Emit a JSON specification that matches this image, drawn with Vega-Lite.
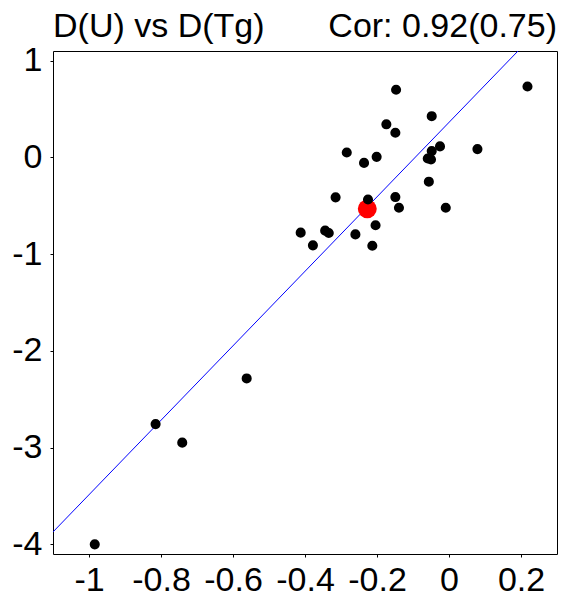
{
  "$schema": "https://vega.github.io/schema/vega-lite/v6.json",
  "width": 504,
  "height": 503,
  "autosize": {"type": "none"},
  "padding": {"left": 53, "top": 51, "right": 4, "bottom": 42},
  "background": "white",
  "config": {
    "view": {"stroke": "black", "strokeWidth": 1},
    "font": "Liberation Sans",
    "axis": {
      "domain": false, "grid": false, "ticks": true, "tickSize": 3, "tickColor": "black",
      "labelFontSize": 34, "labelColor": "black", "labelFont": "Liberation Sans",
      "labelOverlap": false, "labelFlush": false, "labelBound": false, "title": null
    }
  },
  "datasets": {
    "points": [
      {"dTg": -0.227, "dU": -0.532, "kind": "focus"},
      {"dTg": -0.147, "dU": 0.699, "kind": "other"},
      {"dTg": 0.218, "dU": 0.733, "kind": "other"},
      {"dTg": -0.048, "dU": 0.426, "kind": "other"},
      {"dTg": -0.174, "dU": 0.342, "kind": "other"},
      {"dTg": -0.149, "dU": 0.255, "kind": "other"},
      {"dTg": -0.025, "dU": 0.114, "kind": "other"},
      {"dTg": 0.079, "dU": 0.086, "kind": "other"},
      {"dTg": -0.284, "dU": 0.051, "kind": "other"},
      {"dTg": -0.201, "dU": 0.006, "kind": "other"},
      {"dTg": -0.236, "dU": -0.057, "kind": "other"},
      {"dTg": -0.048, "dU": 0.065, "kind": "other"},
      {"dTg": -0.059, "dU": -0.011, "kind": "other"},
      {"dTg": -0.050, "dU": -0.022, "kind": "other"},
      {"dTg": -0.056, "dU": -0.251, "kind": "other"},
      {"dTg": -0.315, "dU": -0.413, "kind": "other"},
      {"dTg": -0.225, "dU": -0.435, "kind": "other"},
      {"dTg": -0.149, "dU": -0.410, "kind": "other"},
      {"dTg": -0.139, "dU": -0.521, "kind": "other"},
      {"dTg": -0.009, "dU": -0.521, "kind": "other"},
      {"dTg": -0.204, "dU": -0.701, "kind": "other"},
      {"dTg": -0.412, "dU": -0.778, "kind": "other"},
      {"dTg": -0.344, "dU": -0.757, "kind": "other"},
      {"dTg": -0.334, "dU": -0.781, "kind": "other"},
      {"dTg": -0.260, "dU": -0.796, "kind": "other"},
      {"dTg": -0.378, "dU": -0.909, "kind": "other"},
      {"dTg": -0.213, "dU": -0.913, "kind": "other"},
      {"dTg": -0.562, "dU": -2.285, "kind": "other"},
      {"dTg": -0.815, "dU": -2.757, "kind": "other"},
      {"dTg": -0.741, "dU": -2.949, "kind": "other"},
      {"dTg": -0.984, "dU": -4.0, "kind": "other"}
    ],
    "fit": [
      {"dTg": -1.1, "dU": -3.872},
      {"dTg": 0.2, "dU": 1.132}
    ],
    "labels": [
      {"label": "D(U) vs D(Tg)", "side": "left"},
      {"label": "Cor: 0.92(0.75)", "side": "right"}
    ]
  },
  "layer": [
    {
      "mark": {"type": "rule", "color": "black", "strokeWidth": 1},
      "encoding": {
        "x": {"datum": 0, "type": "quantitative", "scale": {"domain": [-1.1, 0.3], "nice": false, "zero": false},
              "axis": {"values": [-1, -0.8, -0.6, -0.4, -0.2, 0, 0.2], "labelPadding": 6, "labelExpr": "'' + datum.value"}}
      }
    },
    {
      "mark": {"type": "rule", "color": "black", "strokeWidth": 1},
      "encoding": {
        "y": {"datum": 0, "type": "quantitative", "scale": {"domain": [-4.1, 1.1], "nice": false, "zero": false},
              "axis": {"values": [-4, -3, -2, -1, 0, 1], "labelPadding": 8, "labelExpr": "'' + datum.value"}}
      }
    },
    {
      "data": {"name": "fit"},
      "mark": {"type": "line", "color": "#0000ff", "strokeWidth": 1, "clip": true},
      "encoding": {
        "x": {"field": "dTg", "type": "quantitative", "scale": {"domain": [-1.1, 0.3], "nice": false, "zero": false}},
        "y": {"field": "dU", "type": "quantitative", "scale": {"domain": [-4.1, 1.1], "nice": false, "zero": false}}
      }
    },
    {
      "data": {"name": "points"},
      "mark": {"type": "circle", "opacity": 1},
      "encoding": {
        "x": {"field": "dTg", "type": "quantitative", "scale": {"domain": [-1.1, 0.3], "nice": false, "zero": false}},
        "y": {"field": "dU", "type": "quantitative", "scale": {"domain": [-4.1, 1.1], "nice": false, "zero": false}},
        "color": {"field": "kind", "type": "nominal", "scale": {"domain": ["other", "focus"], "range": ["black", "red"]}, "legend": null},
        "size": {"field": "kind", "type": "nominal", "scale": {"domain": ["other", "focus"], "range": [102, 357]}, "legend": null}
      }
    },
    {
      "data": {"name": "labels"},
      "transform": [{"filter": "datum.side == 'left'"}],
      "mark": {"type": "text", "fontSize": 34, "font": "Liberation Sans", "color": "black", "align": "left", "baseline": "alphabetic"},
      "encoding": {"text": {"field": "label"}, "x": {"value": 0}, "y": {"value": -14}}
    },
    {
      "data": {"name": "labels"},
      "transform": [{"filter": "datum.side == 'right'"}],
      "mark": {"type": "text", "fontSize": 34, "font": "Liberation Sans", "color": "black", "align": "right", "baseline": "alphabetic"},
      "encoding": {"text": {"field": "label"}, "x": {"value": 504}, "y": {"value": -14}}
    }
  ]
}
